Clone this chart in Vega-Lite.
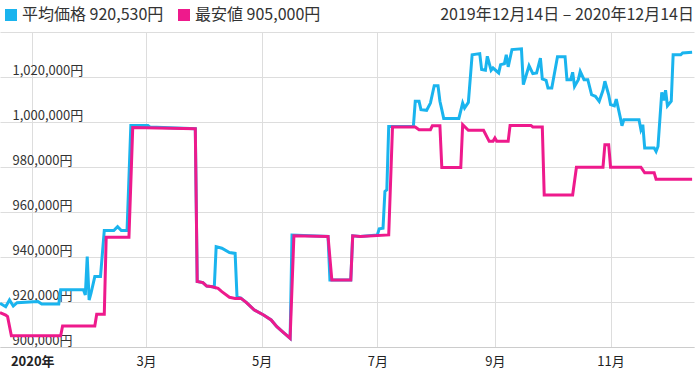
{
  "$schema": "https://vega.github.io/schema/vega-lite/v6.json",
  "width": 694,
  "height": 315,
  "autosize": {"type": "none"},
  "padding": {"left": 0, "top": 32, "right": 6, "bottom": 36},
  "background": "white",
  "config": {"view": {"stroke": null}, "font": "Noto Sans CJK JP"},
  "title": {"text": "2019年12月14日 – 2020年12月14日", "anchor": "end", "orient": "top", "fontSize": 16, "fontWeight": "normal", "font": "Noto Sans CJK JP", "color": "#333", "offset": 9, "dy": 41, "baseline": "bottom"},
  "data": {"values": [
    {"date": "2019-12-15", "series": "平均価格", "value": 919400},
    {"date": "2019-12-18", "series": "平均価格", "value": 917900},
    {"date": "2019-12-20", "series": "平均価格", "value": 920900},
    {"date": "2019-12-22", "series": "平均価格", "value": 918200},
    {"date": "2019-12-24", "series": "平均価格", "value": 919700},
    {"date": "2020-01-04", "series": "平均価格", "value": 920200},
    {"date": "2020-01-06", "series": "平均価格", "value": 919100},
    {"date": "2020-01-15", "series": "平均価格", "value": 919100},
    {"date": "2020-01-16", "series": "平均価格", "value": 925400},
    {"date": "2020-01-28", "series": "平均価格", "value": 925400},
    {"date": "2020-01-29", "series": "平均価格", "value": 923100},
    {"date": "2020-01-30", "series": "平均価格", "value": 940200},
    {"date": "2020-01-31", "series": "平均価格", "value": 920900},
    {"date": "2020-02-01", "series": "平均価格", "value": 923900},
    {"date": "2020-02-03", "series": "平均価格", "value": 931300},
    {"date": "2020-02-06", "series": "平均価格", "value": 931300},
    {"date": "2020-02-08", "series": "平均価格", "value": 951800},
    {"date": "2020-02-13", "series": "平均価格", "value": 951800},
    {"date": "2020-02-15", "series": "平均価格", "value": 953500},
    {"date": "2020-02-17", "series": "平均価格", "value": 951800},
    {"date": "2020-02-20", "series": "平均価格", "value": 951800},
    {"date": "2020-02-22", "series": "平均価格", "value": 998500},
    {"date": "2020-03-02", "series": "平均価格", "value": 998500},
    {"date": "2020-03-03", "series": "平均価格", "value": 997800},
    {"date": "2020-03-27", "series": "平均価格", "value": 997000},
    {"date": "2020-03-28", "series": "平均価格", "value": 929100},
    {"date": "2020-03-31", "series": "平均価格", "value": 928600},
    {"date": "2020-04-02", "series": "平均価格", "value": 927100},
    {"date": "2020-04-05", "series": "平均価格", "value": 926800},
    {"date": "2020-04-06", "series": "平均価格", "value": 926500},
    {"date": "2020-04-07", "series": "平均価格", "value": 944600},
    {"date": "2020-04-10", "series": "平均価格", "value": 943900},
    {"date": "2020-04-14", "series": "平均価格", "value": 942000},
    {"date": "2020-04-17", "series": "平均価格", "value": 941600},
    {"date": "2020-04-18", "series": "平均価格", "value": 922200},
    {"date": "2020-04-20", "series": "平均価格", "value": 921700},
    {"date": "2020-04-23", "series": "平均価格", "value": 919700},
    {"date": "2020-04-27", "series": "平均価格", "value": 916500},
    {"date": "2020-05-02", "series": "平均価格", "value": 914200},
    {"date": "2020-05-06", "series": "平均価格", "value": 912000},
    {"date": "2020-05-09", "series": "平均価格", "value": 909000},
    {"date": "2020-05-13", "series": "平均価格", "value": 906100},
    {"date": "2020-05-16", "series": "平均価格", "value": 903900},
    {"date": "2020-05-17", "series": "平均価格", "value": 949800},
    {"date": "2020-06-05", "series": "平均価格", "value": 949100},
    {"date": "2020-06-06", "series": "平均価格", "value": 929800},
    {"date": "2020-06-17", "series": "平均価格", "value": 929800},
    {"date": "2020-06-18", "series": "平均価格", "value": 949400},
    {"date": "2020-06-22", "series": "平均価格", "value": 949100},
    {"date": "2020-07-01", "series": "平均価格", "value": 949800},
    {"date": "2020-07-02", "series": "平均価格", "value": 952500},
    {"date": "2020-07-04", "series": "平均価格", "value": 952800},
    {"date": "2020-07-05", "series": "平均価格", "value": 969100},
    {"date": "2020-07-06", "series": "平均価格", "value": 969900},
    {"date": "2020-07-07", "series": "平均価格", "value": 998000},
    {"date": "2020-07-20", "series": "平均価格", "value": 998000},
    {"date": "2020-07-21", "series": "平均価格", "value": 1009200},
    {"date": "2020-07-23", "series": "平均価格", "value": 1009200},
    {"date": "2020-07-24", "series": "平均価格", "value": 1005500},
    {"date": "2020-07-27", "series": "平均価格", "value": 1005200},
    {"date": "2020-07-29", "series": "平均価格", "value": 1008400},
    {"date": "2020-07-31", "series": "平均価格", "value": 1016100},
    {"date": "2020-08-02", "series": "平均価格", "value": 1016100},
    {"date": "2020-08-03", "series": "平均価格", "value": 1009200},
    {"date": "2020-08-04", "series": "平均価格", "value": 1005500},
    {"date": "2020-08-05", "series": "平均価格", "value": 1001600},
    {"date": "2020-08-13", "series": "平均価格", "value": 1001600},
    {"date": "2020-08-15", "series": "平均価格", "value": 1008400},
    {"date": "2020-08-16", "series": "平均価格", "value": 1006200},
    {"date": "2020-08-18", "series": "平均価格", "value": 1008700},
    {"date": "2020-08-20", "series": "平均価格", "value": 1029900},
    {"date": "2020-08-24", "series": "平均価格", "value": 1030400},
    {"date": "2020-08-25", "series": "平均価格", "value": 1023300},
    {"date": "2020-08-27", "series": "平均価格", "value": 1023000},
    {"date": "2020-08-28", "series": "平均価格", "value": 1029200},
    {"date": "2020-08-30", "series": "平均価格", "value": 1023000},
    {"date": "2020-08-31", "series": "平均価格", "value": 1024000},
    {"date": "2020-09-03", "series": "平均価格", "value": 1021800},
    {"date": "2020-09-04", "series": "平均価格", "value": 1025500},
    {"date": "2020-09-06", "series": "平均価格", "value": 1025900},
    {"date": "2020-09-07", "series": "平均価格", "value": 1029900},
    {"date": "2020-09-08", "series": "平均価格", "value": 1024500},
    {"date": "2020-09-10", "series": "平均価格", "value": 1032200},
    {"date": "2020-09-15", "series": "平均価格", "value": 1032500},
    {"date": "2020-09-16", "series": "平均価格", "value": 1016600},
    {"date": "2020-09-19", "series": "平均価格", "value": 1025000},
    {"date": "2020-09-21", "series": "平均価格", "value": 1021500},
    {"date": "2020-09-23", "series": "平均価格", "value": 1021800},
    {"date": "2020-09-25", "series": "平均価格", "value": 1028400},
    {"date": "2020-09-26", "series": "平均価格", "value": 1019100},
    {"date": "2020-09-28", "series": "平均価格", "value": 1018500},
    {"date": "2020-09-29", "series": "平均価格", "value": 1015100},
    {"date": "2020-10-01", "series": "平均価格", "value": 1015100},
    {"date": "2020-10-04", "series": "平均価格", "value": 1029000},
    {"date": "2020-10-08", "series": "平均価格", "value": 1029000},
    {"date": "2020-10-09", "series": "平均価格", "value": 1018800},
    {"date": "2020-10-11", "series": "平均価格", "value": 1018800},
    {"date": "2020-10-12", "series": "平均価格", "value": 1022100},
    {"date": "2020-10-13", "series": "平均価格", "value": 1015800},
    {"date": "2020-10-15", "series": "平均価格", "value": 1018800},
    {"date": "2020-10-16", "series": "平均価格", "value": 1022500},
    {"date": "2020-10-18", "series": "平均価格", "value": 1018800},
    {"date": "2020-10-20", "series": "平均価格", "value": 1018800},
    {"date": "2020-10-22", "series": "平均価格", "value": 1012100},
    {"date": "2020-10-24", "series": "平均価格", "value": 1011400},
    {"date": "2020-10-26", "series": "平均価格", "value": 1009200},
    {"date": "2020-10-28", "series": "平均価格", "value": 1014100},
    {"date": "2020-10-29", "series": "平均価格", "value": 1018100},
    {"date": "2020-10-31", "series": "平均価格", "value": 1012100},
    {"date": "2020-11-01", "series": "平均価格", "value": 1007700},
    {"date": "2020-11-03", "series": "平均価格", "value": 1007200},
    {"date": "2020-11-04", "series": "平均価格", "value": 1010200},
    {"date": "2020-11-06", "series": "平均価格", "value": 1002500},
    {"date": "2020-11-07", "series": "平均価格", "value": 998300},
    {"date": "2020-11-08", "series": "平均価格", "value": 1001000},
    {"date": "2020-11-16", "series": "平均価格", "value": 1001000},
    {"date": "2020-11-17", "series": "平均価格", "value": 996600},
    {"date": "2020-11-18", "series": "平均価格", "value": 998800},
    {"date": "2020-11-19", "series": "平均価格", "value": 988400},
    {"date": "2020-11-24", "series": "平均価格", "value": 988400},
    {"date": "2020-11-25", "series": "平均価格", "value": 986900},
    {"date": "2020-11-26", "series": "平均価格", "value": 989100},
    {"date": "2020-11-28", "series": "平均価格", "value": 1013200},
    {"date": "2020-11-29", "series": "平均価格", "value": 1009600},
    {"date": "2020-11-30", "series": "平均価格", "value": 1014100},
    {"date": "2020-12-01", "series": "平均価格", "value": 1007200},
    {"date": "2020-12-03", "series": "平均価格", "value": 1009200},
    {"date": "2020-12-04", "series": "平均価格", "value": 1029900},
    {"date": "2020-12-08", "series": "平均価格", "value": 1029900},
    {"date": "2020-12-09", "series": "平均価格", "value": 1030700},
    {"date": "2020-12-14", "series": "平均価格", "value": 1031000},
    {"date": "2019-12-15", "series": "最安値", "value": 915300},
    {"date": "2019-12-18", "series": "最安値", "value": 914200},
    {"date": "2019-12-19", "series": "最安値", "value": 913500},
    {"date": "2019-12-21", "series": "最安値", "value": 905000},
    {"date": "2020-01-16", "series": "最安値", "value": 905000},
    {"date": "2020-01-17", "series": "最安値", "value": 909300},
    {"date": "2020-02-03", "series": "最安値", "value": 909300},
    {"date": "2020-02-04", "series": "最安値", "value": 914600},
    {"date": "2020-02-08", "series": "最安値", "value": 914600},
    {"date": "2020-02-09", "series": "最安値", "value": 948800},
    {"date": "2020-02-21", "series": "最安値", "value": 948800},
    {"date": "2020-02-23", "series": "最安値", "value": 997500},
    {"date": "2020-03-27", "series": "最安値", "value": 997000},
    {"date": "2020-03-28", "series": "最安値", "value": 929100},
    {"date": "2020-03-31", "series": "最安値", "value": 928600},
    {"date": "2020-04-02", "series": "最安値", "value": 927100},
    {"date": "2020-04-05", "series": "最安値", "value": 926800},
    {"date": "2020-04-08", "series": "最安値", "value": 926100},
    {"date": "2020-04-10", "series": "最安値", "value": 924600},
    {"date": "2020-04-14", "series": "最安値", "value": 922100},
    {"date": "2020-04-17", "series": "最安値", "value": 921600},
    {"date": "2020-04-20", "series": "最安値", "value": 921700},
    {"date": "2020-04-23", "series": "最安値", "value": 919700},
    {"date": "2020-04-27", "series": "最安値", "value": 916500},
    {"date": "2020-05-02", "series": "最安値", "value": 914200},
    {"date": "2020-05-06", "series": "最安値", "value": 912000},
    {"date": "2020-05-09", "series": "最安値", "value": 909000},
    {"date": "2020-05-13", "series": "最安値", "value": 906100},
    {"date": "2020-05-16", "series": "最安値", "value": 903900},
    {"date": "2020-05-18", "series": "最安値", "value": 949400},
    {"date": "2020-06-05", "series": "最安値", "value": 949100},
    {"date": "2020-06-07", "series": "最安値", "value": 929800},
    {"date": "2020-06-17", "series": "最安値", "value": 929800},
    {"date": "2020-06-18", "series": "最安値", "value": 949400},
    {"date": "2020-06-22", "series": "最安値", "value": 949100},
    {"date": "2020-07-07", "series": "最安値", "value": 949800},
    {"date": "2020-07-09", "series": "最安値", "value": 997800},
    {"date": "2020-07-21", "series": "最安値", "value": 997800},
    {"date": "2020-07-23", "series": "最安値", "value": 996600},
    {"date": "2020-07-29", "series": "最安値", "value": 996600},
    {"date": "2020-07-30", "series": "最安値", "value": 998300},
    {"date": "2020-08-03", "series": "最安値", "value": 998300},
    {"date": "2020-08-04", "series": "最安値", "value": 979800},
    {"date": "2020-08-14", "series": "最安値", "value": 979800},
    {"date": "2020-08-15", "series": "最安値", "value": 998800},
    {"date": "2020-08-18", "series": "最安値", "value": 996300},
    {"date": "2020-08-26", "series": "最安値", "value": 996300},
    {"date": "2020-08-29", "series": "最安値", "value": 991400},
    {"date": "2020-08-31", "series": "最安値", "value": 991400},
    {"date": "2020-09-01", "series": "最安値", "value": 992900},
    {"date": "2020-09-02", "series": "最安値", "value": 991400},
    {"date": "2020-09-08", "series": "最安値", "value": 991400},
    {"date": "2020-09-09", "series": "最安値", "value": 998500},
    {"date": "2020-09-20", "series": "最安値", "value": 998500},
    {"date": "2020-09-21", "series": "最安値", "value": 997800},
    {"date": "2020-09-26", "series": "最安値", "value": 997800},
    {"date": "2020-09-27", "series": "最安値", "value": 967600},
    {"date": "2020-10-12", "series": "最安値", "value": 967600},
    {"date": "2020-10-14", "series": "最安値", "value": 979900},
    {"date": "2020-10-28", "series": "最安値", "value": 979900},
    {"date": "2020-10-29", "series": "最安値", "value": 989900},
    {"date": "2020-10-31", "series": "最安値", "value": 989900},
    {"date": "2020-11-01", "series": "最安値", "value": 979900},
    {"date": "2020-11-17", "series": "最安値", "value": 979900},
    {"date": "2020-11-19", "series": "最安値", "value": 977400},
    {"date": "2020-11-24", "series": "最安値", "value": 977400},
    {"date": "2020-11-25", "series": "最安値", "value": 974600},
    {"date": "2020-12-14", "series": "最安値", "value": 974600}
  ]},
  "mark": {"type": "line", "strokeWidth": 3, "clip": true},
  "encoding": {
    "x": {
      "field": "date", "type": "temporal",
      "scale": {"type": "utc", "nice": false, "domain": [{"year": 2019, "month": 12, "date": 15, "utc": true}, {"year": 2020, "month": 12, "date": 15, "utc": true}]},
      "axis": {
        "title": null,
        "values": [
          {"year": 2020, "month": 1, "date": 1, "utc": true},
          {"year": 2020, "month": 3, "date": 1, "utc": true},
          {"year": 2020, "month": 5, "date": 1, "utc": true},
          {"year": 2020, "month": 7, "date": 1, "utc": true},
          {"year": 2020, "month": 9, "date": 1, "utc": true},
          {"year": 2020, "month": 11, "date": 1, "utc": true}
        ],
        "grid": true, "gridColor": "#dddddd", "ticks": false,
        "domainColor": "#cccccc",
        "labelExpr": "utcmonth(datum.value) == 0 ? '2020年' : (utcmonth(datum.value) + 1) + '月'",
        "labelFontSize": 13, "labelColor": "#222222", "labelPadding": 8,
        "labelFontWeight": {"condition": {"test": "utcmonth(datum.value) == 0", "value": "bold"}, "value": "normal"}
      }
    },
    "y": {
      "field": "value", "type": "quantitative",
      "scale": {"domain": [900000, 1040000], "nice": false, "zero": false},
      "axis": {
        "title": null,
        "values": [900000, 920000, 940000, 960000, 980000, 1000000, 1020000, 1040000],
        "grid": true, "gridColor": "#dddddd", "ticks": false, "domain": false,
        "labelAlign": "left", "labelBaseline": "alphabetic", "labelPadding": -12, "labelOffset": -3,
        "labelExpr": "datum.value >= 1040000 ? '' : format(datum.value, ',') + '円'",
        "labelFontSize": 13, "labelColor": "#333333"
      }
    },
    "color": {
      "field": "series", "type": "nominal",
      "scale": {"domain": ["平均価格", "最安値"], "range": ["#1ab4ee", "#ee1a8c"]},
      "legend": {
        "orient": "none", "legendX": 3, "legendY": -25, "direction": "horizontal", "title": null,
        "symbolType": "square", "symbolSize": 144, "symbolStrokeWidth": 0,
        "labelFontSize": 16, "labelColor": "#333333", "labelOffset": 3, "columnPadding": 12, "labelLimit": 300,
        "labelExpr": "datum.label == '平均価格' ? '平均価格 920,530円' : '最安値 905,000円'",
        "encode": {"symbols": {"update": {"fill": {"scale": "color", "field": "value"}, "stroke": {"value": "transparent"}, "opacity": {"value": 1}}}}
      }
    }
  }
}
